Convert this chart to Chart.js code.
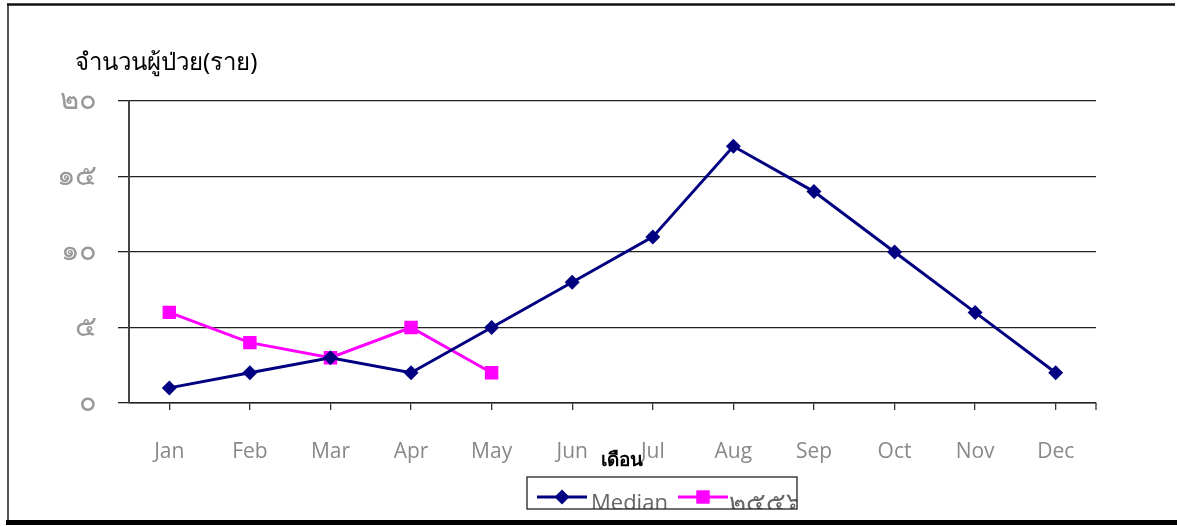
<!DOCTYPE html>
<html>
<head>
<meta charset="utf-8">
<script src="https://cdn.jsdelivr.net/npm/chart.js@4"></script>
<style>
  html, body { margin: 0; padding: 0; background: #fff; }
  #wrap { position: relative; width: 1177px; height: 526px; }
</style>
</head>
<body>
<div id="wrap"><canvas id="line-chart" width="1177" height="526"></canvas></div>
<script>
const months = ["Jan", "Feb", "Mar", "Apr", "May", "Jun", "Jul", "Aug", "Sep", "Oct", "Nov", "Dec"];
const medianCases = [1, 2, 3, 2, 5, 8, 11, 17, 14, 10, 6, 2];
const cases2556 = [6, 4, 3, 5, 2];
const yTickLabels = ["๐", "๕", "๑๐", "๑๕", "๒๐"];
const seriesNames = ["Median", "๒๕๕๖"];
const yTitle = "จำนวนผู้ป่วย(ราย)";
const xTitle = "เดือน";

const NAVY = "#000080";
const MAGENTA = "#ff00ff";

// frame, titles and the boxed legend like the original sheet
const decorations = {
  id: "decorations",
  beforeDraw(chart) {
    const ctx = chart.ctx;
    ctx.save();
    ctx.fillStyle = "#fff";
    ctx.fillRect(0, 0, chart.width, chart.height);
    ctx.lineCap = "butt";
    ctx.strokeStyle = "#555";
    ctx.lineWidth = 2;
    ctx.beginPath(); ctx.moveTo(8, 4); ctx.lineTo(8, 521); ctx.stroke();
    ctx.strokeStyle = "#111";
    ctx.lineWidth = 2.5;
    ctx.beginPath(); ctx.moveTo(7, 4.5); ctx.lineTo(1175, 4.5); ctx.stroke();
    ctx.fillStyle = "#000";
    ctx.fillRect(6, 520, 1171, 5);
    ctx.restore();
  },
  afterDraw(chart) {
    const ctx = chart.ctx;
    const area = chart.chartArea;
    ctx.save();

    // closing tick at the right end of the x axis
    ctx.strokeStyle = "#333";
    ctx.lineWidth = 1.3;
    ctx.beginPath(); ctx.moveTo(area.right, area.bottom); ctx.lineTo(area.right, area.bottom + 7); ctx.stroke();

    ctx.fillStyle = "#000";
    ctx.textBaseline = "middle";
    ctx.textAlign = "left";
    ctx.font = "24px 'Noto Sans', sans-serif";
    ctx.fillText(yTitle, 75, 63);

    ctx.textAlign = "center";
    ctx.font = "bold 19px 'Noto Sans', sans-serif";
    ctx.fillText(xTitle, 622, 461);

    // legend box (text is cut by the box edge in the reference)
    const bx = 527, by = 477, bw = 270, bh = 32;
    ctx.save();
    ctx.beginPath(); ctx.rect(bx, by, bw, bh); ctx.clip();
    ctx.fillStyle = "#fff";
    ctx.fillRect(bx, by, bw, bh);
    const ly = 497;
    const ds = chart.data.datasets;
    const entries = [
      { x: 537, tx: 591, ds: ds[0] },
      { x: 678, tx: 729, ds: ds[1] }
    ];
    entries.forEach(function (e, i) {
      ctx.strokeStyle = e.ds.borderColor;
      ctx.lineWidth = 3;
      ctx.beginPath(); ctx.moveTo(e.x, ly); ctx.lineTo(e.x + 50, ly); ctx.stroke();
      ctx.fillStyle = e.ds.backgroundColor;
      Chart.helpers.drawPoint(ctx, { pointStyle: e.ds.pointStyle, radius: e.ds.pointRadius, borderWidth: 0 }, e.x + 25, ly);
      ctx.fillStyle = "#666";
      ctx.textAlign = "left";
      ctx.textBaseline = "middle";
      ctx.font = (i === 0 ? "22px" : "26px") + " 'Open Sans', 'Noto Sans', sans-serif";
      ctx.fillText(seriesNames[i], e.tx, ly + 7);
    });
    ctx.restore();
    ctx.strokeStyle = "#222";
    ctx.lineWidth = 1.3;
    ctx.strokeRect(bx, by, bw, bh);

    ctx.restore();
  }
};

let config = {
  type: "line",
  data: {
    labels: months,
    datasets: [
      {
        label: seriesNames[0],
        data: medianCases,
        borderColor: NAVY,
        backgroundColor: NAVY,
        borderWidth: 3,
        pointStyle: "rectRot",
        pointRadius: 7.5,
        pointBorderWidth: 0,
        tension: 0
      },
      {
        label: seriesNames[1],
        data: cases2556,
        borderColor: MAGENTA,
        backgroundColor: MAGENTA,
        borderWidth: 3,
        pointStyle: "rect",
        pointRadius: 9.5,
        pointBorderWidth: 0,
        tension: 0
      }
    ]
  },
  options: {
    responsive: false,
    animation: false,
    layout: { padding: { top: 101, right: 81, bottom: 0, left: 0 } },
    plugins: {
      legend: { display: false },
      title: { display: false },
      tooltip: { enabled: false }
    },
    scales: {
      x: {
        offset: true,
        grid: { offset: false, drawOnChartArea: false, color: "#333", lineWidth: 1.3, tickLength: 7 },
        border: { color: "#222", width: 1.5 },
        ticks: {
          color: "#888",
          padding: 29,
          maxRotation: 0,
          font: { family: "'Open Sans', 'Noto Sans', sans-serif", size: 21 }
        },
        afterFit: function (scale) { scale.height = 123; }
      },
      y: {
        min: 0,
        max: 20,
        grid: { color: "#222", lineWidth: 1.3, tickLength: 11 },
        border: { color: "#444", width: 2 },
        ticks: {
          stepSize: 5,
          color: "#999",
          padding: 21,
          font: { family: "'Noto Sans', sans-serif", size: 29, weight: "300" },
          callback: function (value) { return yTickLabels[value / 5]; }
        },
        afterFit: function (scale) { scale.width = 129; }
      }
    }
  },
  plugins: [decorations]
};

let ctx = document.getElementById("line-chart").getContext("2d");
window.myLine = new Chart(ctx, config);
</script>
</body>
</html>
